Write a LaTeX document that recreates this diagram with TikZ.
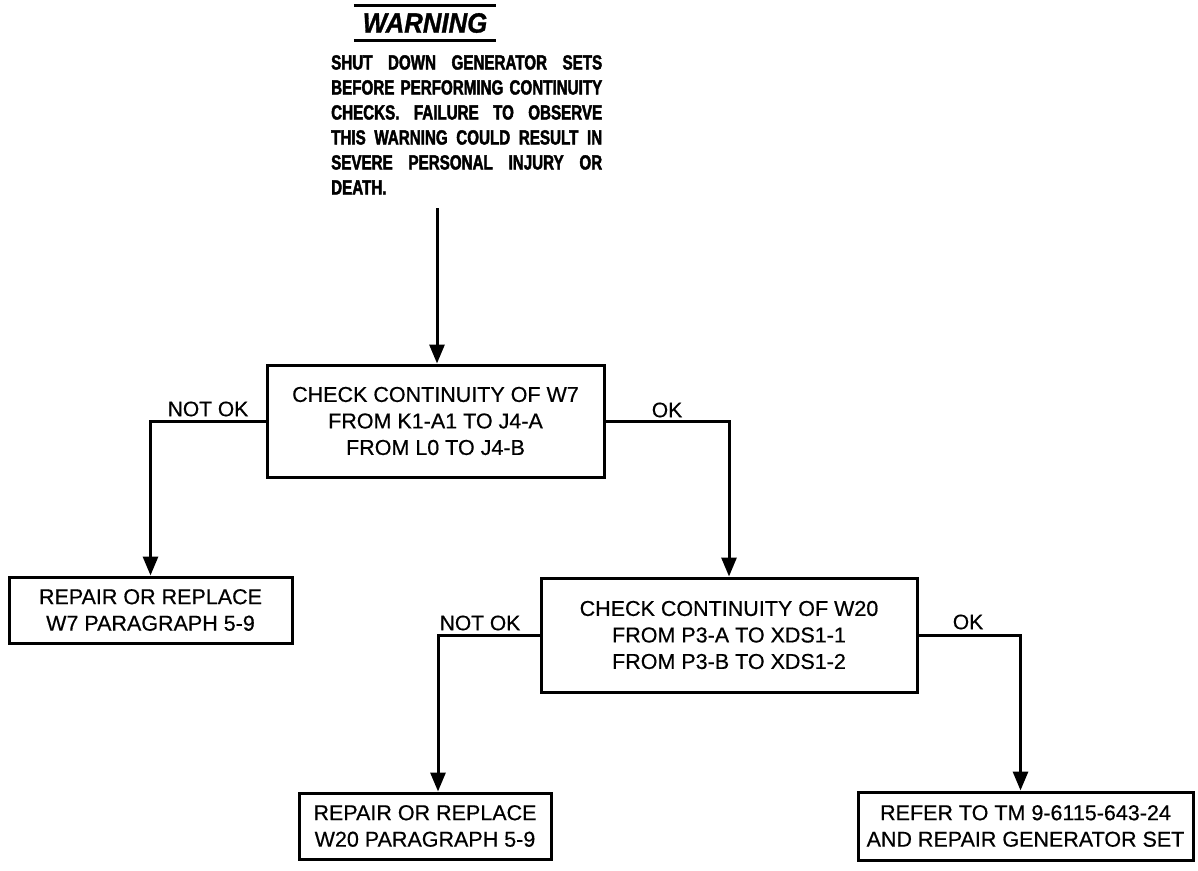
\documentclass[tikz,border=0pt]{standalone}
\usepackage{fontspec}
\setmainfont{Liberation Sans}[FakeBold=0.5]
\newfontfamily\warnfont[FakeStretch=0.74,FakeBold=2]{Liberation Sans}
\newfontfamily\titlefont[FakeStretch=0.92,FakeBold=1]{Liberation Sans}
\usetikzlibrary{arrows.meta}
\newcommand{\wline}[1]{\makebox[271pt][s]{#1}}
\begin{document}
\begin{tikzpicture}[x=1pt,y=-1pt,
  box/.style={draw,line width=3pt,inner sep=0pt,align=center,font=\fontsize{21.5}{26.5}\selectfont},
  lbl/.style={inner sep=0pt,font=\fontsize{21}{24}\selectfont},
  conn/.style={line width=3pt},
  arr/.style={conn,-{Triangle[width=15pt,length=19pt]}}]
\path[use as bounding box] (0,0) rectangle (1198,870);
% warning header
\node[minimum width=142pt, minimum height=34pt, inner sep=0pt,
      font=\titlefont\bfseries\itshape\fontsize{28}{30}\selectfont] (title) at (425,23) {WARNING};
\draw[line width=3pt] (title.north west) -- (title.north east);
\draw[line width=3pt] (title.south west) -- (title.south east);
\node[anchor=north west, align=left, inner sep=0pt,
      font=\warnfont\bfseries\fontsize{20.5}{25}\selectfont] (warn) at (331,55)
  {\wline{SHUT DOWN GENERATOR SETS}\\
   \wline{BEFORE PERFORMING CONTINUITY}\\
   \wline{CHECKS. FAILURE TO OBSERVE}\\
   \wline{THIS WARNING COULD RESULT IN}\\
   \wline{SEVERE PERSONAL INJURY OR}\\
   DEATH.};
% boxes
\node[box, minimum width=337pt, minimum height=112pt] (b1) at (435.5,421)
  {CHECK CONTINUITY OF W7\\FROM K1-A1 TO J4-A\\FROM L0 TO J4-B};
\node[box, minimum width=283pt, minimum height=66pt] (b2) at (150.5,610)
  {REPAIR OR REPLACE\\W7 PARAGRAPH 5-9};
\node[box, minimum width=376pt, minimum height=114pt] (b3) at (729,635)
  {CHECK CONTINUITY OF W20\\FROM P3-A TO XDS1-1\\FROM P3-B TO XDS1-2};
\node[box, minimum width=252pt, minimum height=66pt] (b4) at (425,826)
  {REPAIR OR REPLACE\\W20 PARAGRAPH 5-9};
\node[box, minimum width=335pt, minimum height=68pt] (b5) at (1025.5,826)
  {REFER TO TM 9-6115-643-24\\AND REPAIR GENERATOR SET};
% connectors
\coordinate (ws) at (437,208);
\coordinate (c4) at (438,700);
\draw[arr] (ws) -- (ws |- b1.north);
\draw[arr] (b1.west) -| (b2.north);
\draw[arr] (b1.east) -| (b3.north);
\draw[arr] (b3.west) -| (c4 |- b4.north);
\draw[arr] (b3.east) -| ([xshift=-5pt]b5.north);
% labels
\node[lbl] (l1) at (208,409) {NOT OK};
\node[lbl] (l2) at (667,410) {OK};
\node[lbl] (l3) at (480,623) {NOT OK};
\node[lbl] (l4) at (968,622) {OK};
\end{tikzpicture}
\end{document}
